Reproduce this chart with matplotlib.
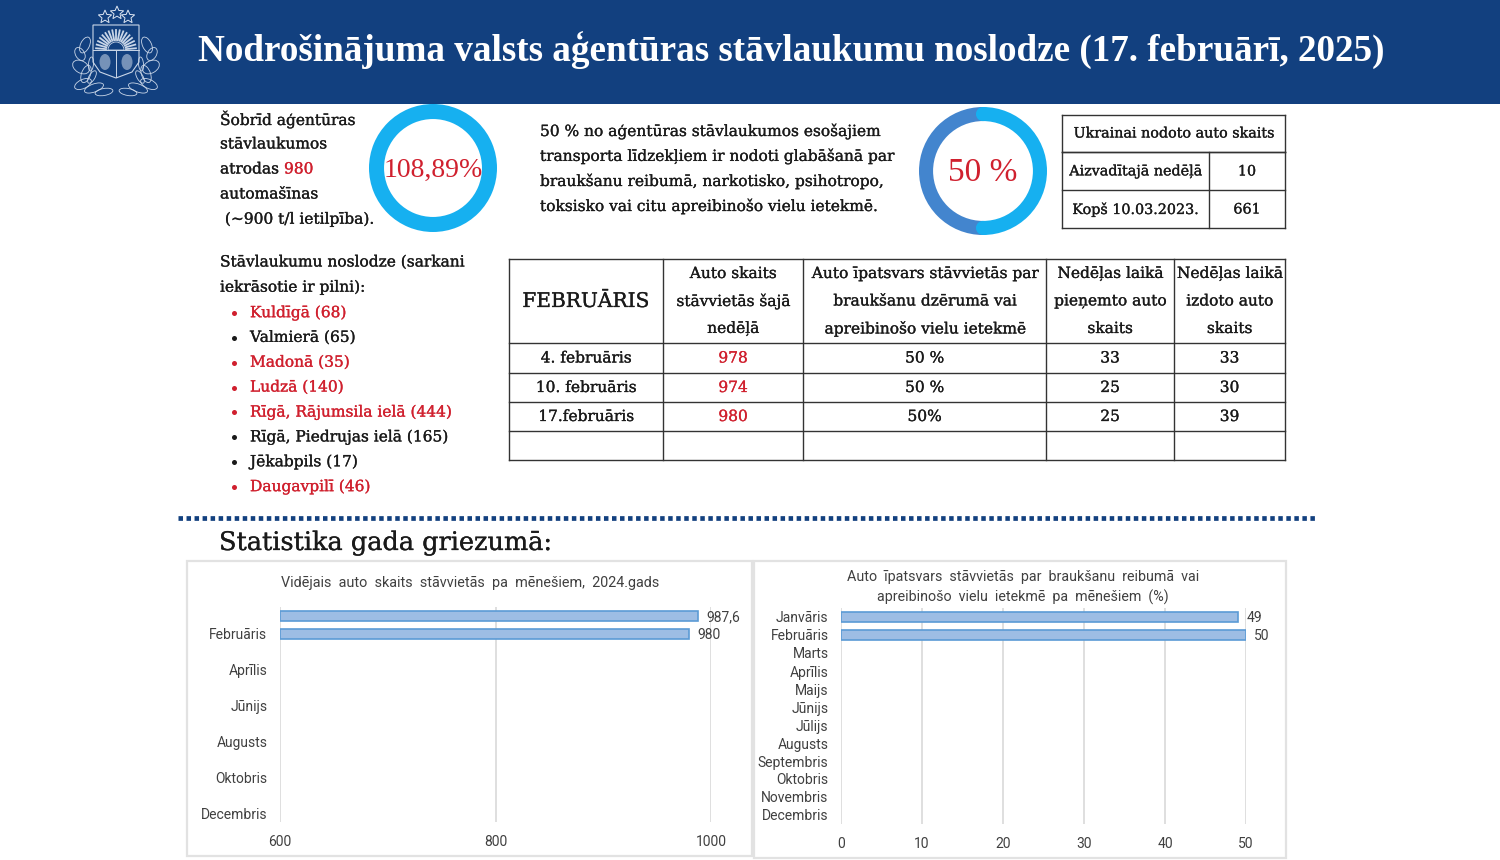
import matplotlib
matplotlib.use("Agg")
import matplotlib.pyplot as plt
import matplotlib.patheffects as pe
from matplotlib.patches import Rectangle, Ellipse, Circle, Polygon, Wedge
import numpy as np

W, H = 1500, 860
NAVY = "#12407F"
RED = "#D0202E"
SKY = "#16B0F0"
MID = "#4385CE"
INK = "#1A1A1A"
SANS = "#404040"
SERIF = "DejaVu Serif"
HEAD_SERIF = "Liberation Serif"
CHART_FONT = "Roboto"

title = "Nodrošinājuma valsts aģentūras stāvlaukumu noslodze (17. februārī, 2025)"
occupancy_label = "108,89%"
share_label = "50 %"
share_values = [50, 50]

intro_lines = ["Šobrīd aģentūras", "stāvlaukumos", "atrodas ", "automašīnas", " (~900 t/l ietilpība)."]
cars_now = "980"
share_lines = [
    "50 % no aģentūras stāvlaukumos esošajiem",
    "transporta līdzekļiem ir nodoti glabāšanā par",
    "braukšanu reibumā, narkotisko, psihotropo,",
    "toksisko vai citu apreibinošo vielu ietekmē.",
]
lots_heading = ["Stāvlaukumu noslodze (sarkani", "iekrāsotie ir pilni):"]
lots = ["Kuldīgā (68)", "Valmierā (65)", "Madonā (35)", "Ludzā (140)", "Rīgā, Rājumsila ielā (444)",
        "Rīgā, Piedrujas ielā (165)", "Jēkabpils (17)", "Daugavpilī (46)"]
lots_full = [True, False, True, True, True, False, False, True]

ukraine_head = "Ukrainai nodoto auto skaits"
ukraine_rows = [["Aizvadītajā nedēļā", "10"], ["Kopš 10.03.2023.", "661"]]

feb_head = ["FEBRUĀRIS",
            "Auto skaits\nstāvvietās šajā\nnedēļā",
            "Auto īpatsvars stāvvietās par\nbraukšanu dzērumā vai\napreibinošo vielu ietekmē",
            "Nedēļas laikā\npieņemto auto\nskaits",
            "Nedēļas laikā\nizdoto auto\nskaits"]
feb_rows = [["4. februāris", "978", "50 %", "33", "33"],
            ["10. februāris", "974", "50 %", "25", "30"],
            ["17.februāris", "980", "50%", "25", "39"],
            ["", "", "", "", ""]]

section = "Statistika gada griezumā:"
months = ["Janvāris", "Februāris", "Marts", "Aprīlis", "Maijs", "Jūnijs", "Jūlijs", "Augusts",
          "Septembris", "Oktobris", "Novembris", "Decembris"]
avg_title = "Vidējais  auto  skaits  stāvvietās  pa  mēnešiem,  2024.gads"
avg_values = [987.6, 980]
avg_labels = ["987,6", "980"]
avg_ticks = [600, 800, 1000]
share_title = "Auto  īpatsvars  stāvvietās  par  braukšanu  reibumā  vai\napreibinošo  vielu  ietekmē  pa  mēnešiem  (%)"
month_share = [49, 50]
share_ticks = [0, 10, 20, 30, 40, 50]


def px_axes(x0, y0, x1, y1):
    return fig.add_axes([x0 / W, 1 - y1 / H, (x1 - x0) / W, (y1 - y0) / H])


def put(x, y, s, size=11.1, color=INK, ha="left", family=SERIF, **kw):
    t = bg.text(x, y + 0.5, s, fontsize=size, color=color, ha=ha, va="center", family=family, **kw)
    # the reference serif is heavier than the regular DejaVu cut
    t.set_path_effects([pe.withStroke(linewidth=0.2, foreground=color)])


def cell_lines(xs, ys):
    for x in xs:
        bg.plot([x, x], [ys[0], ys[-1]], color="#333333", lw=1.0, solid_capstyle="projecting")
    for y in ys:
        bg.plot([xs[0], xs[-1]], [y, y], color="#333333", lw=1.0, solid_capstyle="projecting")


def draw_star(cx, cy, r):
    ang = np.deg2rad(np.arange(0, 360, 36) - 90)
    rad = np.where(np.arange(10) % 2 == 0, r, r * 0.45)
    pts = np.column_stack([cx + rad * np.cos(ang), cy + rad * np.sin(ang)])
    bg.add_patch(Polygon(pts, fill=False, ec="#DDE6F2", lw=0.7))


def draw_emblem():
    line = "#C9D6E8"
    for cx, cy in [(105, 17), (117, 13), (128, 17)]:
        draw_star(cx, cy, 7)
    shield = [(93, 25), (139, 25), (139, 62), (132, 72), (116, 78), (100, 72), (93, 62)]
    bg.add_patch(Polygon(shield, fill=False, ec=line, lw=0.8))
    bg.plot([93, 139], [50, 50], color=line, lw=0.7)
    bg.plot([116, 116], [50, 77], color=line, lw=0.7)
    bg.add_patch(Wedge((116, 50), 8, 180, 360, fc=NAVY, ec=line, lw=0.6))
    for a in np.deg2rad(np.linspace(185, 355, 17)):
        bg.plot([116 + 10 * np.cos(a), 116 + 20 * np.cos(a)], [50 + 10 * np.sin(a), 50 + 20 * np.sin(a)],
                color=line, lw=1.3)
    for cx in (105, 127):
        bg.add_patch(Ellipse((cx, 62), 11, 16, fc=line, ec="none", alpha=0.55))
    leaves = [(-31, -15, 9, 17, 25), (-36, -6, 9, 14, -30), (-35, 7, 12, 18, -60), (-30, 14, 9, 18, 20),
              (-33, 24, 9, 18, 65), (-22, 28, 8, 20, 70), (-12, 32, 7, 18, 80), (-25, 4, 5, 14, 5),
              (-24, 17, 6, 14, 30)]
    for dx, dy, w, h, ang in leaves:
        for sign in (1, -1):
            bg.add_patch(Ellipse((116 + sign * dx, 60 + dy), w, h, angle=sign * ang, fc="none", ec=line, lw=0.6))


def bar_panel(ax, values, labels, xlim, ticks, tick_months, label_pad, ypad):
    ax.set_xlim(*xlim)
    ax.set_ylim(len(months) - 0.5, -0.5)
    ax.patch.set_alpha(0)
    for s in ax.spines.values():
        s.set_visible(False)
    ax.set_xticks(ticks)
    ax.set_yticks([months.index(m) for m in tick_months])
    ax.set_yticklabels(tick_months)
    ax.tick_params(length=0, colors=SANS, labelsize=10)
    ax.tick_params(axis="y", pad=ypad)
    ax.tick_params(axis="x", pad=9.5)
    for lab in ax.get_xticklabels() + ax.get_yticklabels():
        lab.set_family(CHART_FONT)
    ax.grid(axis="x", color="#D9D9D9", lw=1.2)
    ax.set_axisbelow(True)
    ypos = np.arange(len(values))
    ax.barh(ypos, np.array(values) - xlim[0], left=xlim[0], height=0.52, color="#9DBDE4", edgecolor="#5B9BD5", lw=1.2)
    for y, v, lab in zip(ypos, values, labels):
        ax.annotate(lab, (v, y), xytext=(label_pad, -1), textcoords="offset points", va="center", ha="left",
                    fontsize=10, color=SANS, family=CHART_FONT)


fig = plt.figure(figsize=(W / 100, H / 100), dpi=100, facecolor="white")
bg = fig.add_axes([0, 0, 1, 1])
bg.set_xlim(0, W)
bg.set_ylim(H, 0)
bg.axis("off")

# header
bg.add_patch(Rectangle((0, 0), W, 104, fc=NAVY, ec="none"))
draw_emblem()
bg.text(198, 51, title, fontsize=26.75, color="white", weight="bold", family=HEAD_SERIF, ha="left", va="center")

# left intro
for i, s in enumerate(intro_lines):
    put(220, 119 + i * 25, s)
put(284, 169, cars_now, color=RED)

# rings
ring1 = px_axes(369, 104, 497, 232)
ring1.pie([100], colors=[SKY], radius=1, wedgeprops={"width": 0.235}, startangle=90)
ring1.set_xlim(-1, 1)
ring1.set_ylim(-1, 1)
ring1.text(0, -0.04, occupancy_label, fontsize=20, color=RED, ha="center", va="center", family=HEAD_SERIF)

ring2 = px_axes(919, 107, 1047, 235)
ring2.pie(share_values, colors=[MID, SKY], radius=1, wedgeprops={"width": 0.22}, startangle=90)
ring2.set_xlim(-1, 1)
ring2.set_ylim(-1, 1)
ring2.add_patch(Circle((0, 0.89), 0.11, fc=SKY, ec="none"))
ring2.add_patch(Circle((0, -0.89), 0.11, fc=SKY, ec="none"))
ring2.text(0, -0.03, share_label, fontsize=24, color=RED, ha="center", va="center", family=HEAD_SERIF)

for i, s in enumerate(share_lines):
    put(540, 131 + i * 25, s)

# ukraine table
cell_lines([1062, 1285], [115, 152])
cell_lines([1062, 1209, 1285], [152, 190, 228])
put(1173.5, 133, ukraine_head, size=10.3, ha="center")
for i, row in enumerate(ukraine_rows):
    put(1135.5, 171 + i * 38, row[0], size=10.3, ha="center")
    put(1247, 171 + i * 38, row[1], size=10.3, ha="center")

# lots list
for i, s in enumerate(lots_heading):
    put(220, 262 + i * 25, s)
for i, (s, full) in enumerate(zip(lots, lots_full)):
    c = RED if full else INK
    bg.scatter([234], [313 + i * 24.85], s=13, color=c, linewidths=0)
    put(250, 312.5 + i * 24.85, s, color=c)

# february table
col_x = [509, 663, 803, 1046, 1174, 1285]
row_y = [259, 343, 373, 402, 431, 460]
cell_lines(col_x, row_y)
col_mid = [(a + b) / 2 for a, b in zip(col_x[:-1], col_x[1:])]
put(col_mid[0], 301, feb_head[0], size=14.5, ha="center")
for x, s in zip(col_mid[1:], feb_head[1:]):
    for j, part in enumerate(s.split("\n")):
        put(x, 273.5 + j * 27.5, part, ha="center")
for i, row in enumerate(feb_rows):
    y = (row_y[i + 1] + row_y[i + 2]) / 2
    for j, (x, s) in enumerate(zip(col_mid, row)):
        put(x, y, s, ha="center", color=RED if j == 1 else INK)

# divider
bg.plot([178, 1316], [517.5, 517.5], color=NAVY, lw=3.4, dashes=(0.95, 0.75))
put(219, 542, section, size=18.4)

# charts
bg.add_patch(Rectangle((187, 561), 565, 295, fc="white", ec="#E2E2E2", lw=1.6))
bg.add_patch(Rectangle((754, 561), 532, 297, fc="white", ec="#E2E2E2", lw=1.6))
bg.text(470, 583, avg_title, fontsize=10.4, color=SANS, family=CHART_FONT, ha="center", va="center")
for j, part in enumerate(share_title.split("\n")):
    bg.text(1023, 577 + j * 20.5, part, fontsize=10.3, color=SANS, family=CHART_FONT, ha="center", va="center")

ax1 = px_axes(280, 607, 711, 822)
bar_panel(ax1, avg_values, avg_labels, (600, 1000), avg_ticks, months[1::2], 6, 9)
ax2 = px_axes(841, 608, 1246, 824)
bar_panel(ax2, month_share, [str(v) for v in month_share], (0, 50), share_ticks, months, 6, 9)

fig.savefig("out.png", dpi=100)
